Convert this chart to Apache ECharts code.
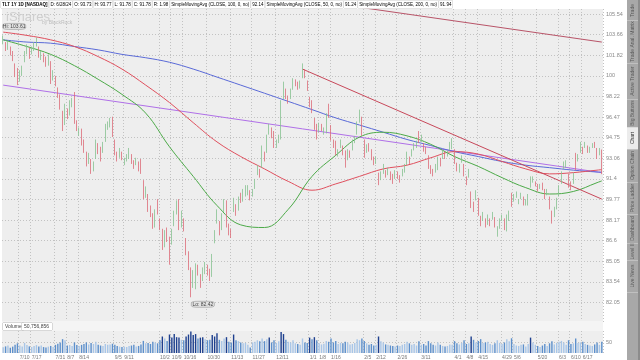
<!DOCTYPE html>
<html><head><meta charset="utf-8">
<script src="https://cdn.jsdelivr.net/npm/echarts@6/dist/echarts.min.js"></script>
<style>html,body{margin:0;padding:0;background:#fff;}#c{width:640px;height:360px;}</style>
</head><body><div id="c"></div><script>
// ---------- data ----------
const startDate = '2023-06-28', endDate = '2024-06-28';
const holidays = ['2023-07-04','2023-09-04','2023-11-23','2023-12-25','2024-01-01','2024-01-15','2024-02-19','2024-03-29','2024-05-27','2024-06-19'];

const opens = [103.0,102.9,102.6,
102.4,101.8,100.9,100.4,99.7,100.3,101.6,102.3,102.2,102.0,102.5,102.9,102.4,101.9,101.6,101.3,101.1,101.2,99.8,99.9,
98.9,97.9,96.8,95.9,96.9,96.8,97.4,98.4,96.0,95.2,95.3,94.3,93.4,92.8,92.9,92.3,93.1,94.1,93.7,93.7,94.5,95.7,95.8,
96.3,94.5,93.2,93.2,93.5,92.8,93.1,93.2,93.2,92.8,92.7,92.6,92.3,91.2,90.1,90.0,89.0,88.5,87.8,89.4,
88.2,87.3,86.2,87.1,86.6,86.9,87.9,88.8,89.7,87.7,88.2,86.6,85.5,84.5,83.6,83.3,84.6,84.0,83.8,84.3,84.6,84.3,
84.0,86.5,88.0,88.0,87.5,88.9,89.5,87.6,87.3,88.9,89.3,89.0,90.0,89.9,90.2,90.6,90.4,90.1,90.7,91.8,92.1,
92.4,93.5,93.6,95.1,95.3,95.2,94.0,94.6,94.9,98.4,98.6,98.0,98.2,98.9,99.4,99.2,99.1,99.9,100.5,99.5,
98.0,97.4,96.3,95.3,95.4,95.6,95.3,95.3,97.3,95.7,94.5,94.3,93.3,94.0,94.0,93.6,93.0,93.5,93.8,94.6,95.1,
96.2,96.4,94.5,93.6,94.0,93.7,93.0,92.8,91.8,91.6,92.1,91.9,91.9,91.9,91.4,91.5,91.9,91.5,91.7,92.2,
92.6,93.0,93.3,93.8,94.3,94.9,94.7,94.2,93.8,93.2,92.3,91.9,92.0,92.4,92.9,93.1,93.4,93.3,93.8,94.2,
93.7,92.5,92.2,92.9,92.5,91.5,91.6,90.3,89.4,89.8,89.8,88.3,88.2,88.2,88.1,88.0,88.3,88.3,87.3,87.6,88.3,88.2,
87.5,88.3,89.8,89.7,90.0,89.6,89.9,89.9,89.5,89.8,90.8,91.3,91.0,90.8,90.7,90.9,90.5,90.2,89.9,88.8,88.5,89.5,
90.1,91.1,92.3,92.5,91.6,90.9,91.1,93.0,93.0,93.6,93.9,94.0,94.0,93.8,94.0,94.2,93.8,93.4,93.73];
const highs = [103.6,103.0,103.1,
102.6,102.2,101.1,100.7,100.5,100.9,102.2,102.8,102.5,102.6,103.0,103.4,102.6,102.2,102.0,101.7,101.9,101.3,100.5,100.0,
99.0,98.4,97.0,97.6,97.2,97.9,98.1,98.6,96.2,95.6,95.5,94.6,93.6,93.5,93.0,92.8,94.6,94.3,94.0,94.4,95.9,96.1,96.4,
96.5,94.6,93.6,93.9,93.6,93.1,93.4,93.9,93.4,92.9,93.1,92.8,93.0,91.3,90.8,90.2,89.3,88.7,89.0,89.8,
88.3,87.5,87.4,87.6,86.9,87.5,88.9,89.7,89.8,88.9,88.3,86.8,85.8,84.6,84.4,84.9,84.8,84.1,84.6,85.0,84.8,84.5,
85.6,87.4,89.0,88.1,88.7,89.8,89.7,87.9,87.5,89.9,89.4,90.0,90.3,90.6,90.9,90.9,90.5,90.6,91.4,92.5,92.2,
94.1,93.6,95.0,95.9,95.6,95.3,94.6,95.0,97.9,99.5,98.9,98.3,98.9,99.8,99.7,99.5,99.6,101.1,100.6,99.6,
98.2,97.9,96.4,95.9,96.0,95.9,95.6,96.8,97.6,95.8,94.6,94.5,93.8,94.6,94.1,93.7,93.8,93.7,94.6,94.9,96.1,
97.1,96.5,94.6,94.2,94.3,93.8,93.2,93.2,91.9,92.0,92.6,92.1,92.3,92.0,91.8,92.1,92.0,91.7,92.2,92.6,
93.6,93.2,93.8,94.3,94.5,95.3,95.0,94.3,94.0,93.3,92.5,92.2,92.6,93.2,93.1,93.7,93.6,93.7,94.4,94.7,
93.8,92.7,92.6,93.3,92.6,91.6,92.2,90.4,89.6,90.5,89.9,88.5,88.8,88.3,88.6,88.3,88.8,88.4,87.7,88.3,88.6,88.3,
88.6,88.9,90.3,90.2,90.4,89.8,90.3,90.0,89.8,90.2,91.6,91.6,91.2,91.0,91.0,91.1,90.6,90.6,90.0,88.9,89.2,89.9,
90.9,92.0,92.8,92.9,91.8,91.2,91.9,93.5,93.4,94.4,94.0,94.4,94.1,94.0,94.3,94.4,93.9,93.9,93.77];
const lows = [102.8,102.2,102.3,
101.8,101.3,99.9,99.2,99.5,100.0,101.2,101.9,101.5,101.9,102.2,102.6,101.6,101.4,101.2,100.8,100.9,99.3,99.6,99.1,
98.1,97.1,95.3,95.8,96.3,96.6,97.3,95.9,95.3,94.9,94.1,93.5,92.4,92.6,91.8,92.0,93.0,93.4,92.8,93.5,94.4,95.4,95.6,
94.8,93.3,92.8,93.1,92.9,92.5,92.8,93.0,92.6,92.2,92.5,92.0,91.8,89.8,89.9,88.8,88.4,87.5,87.6,88.6,
87.4,85.9,86.1,86.5,84.8,86.3,87.7,88.6,87.4,87.6,87.3,85.5,84.4,82.42,83.1,83.0,84.0,83.1,83.6,84.1,84.0,83.6,
83.9,86.4,87.9,87.0,87.4,88.8,87.6,87.0,86.8,88.8,88.5,88.9,89.5,89.6,90.0,90.1,89.7,90.0,90.6,91.7,91.5,
92.3,92.8,93.5,95.0,94.7,93.9,93.9,94.3,94.6,98.0,98.0,97.6,98.0,98.8,99.1,98.8,98.9,99.8,99.8,98.7,
97.3,96.8,95.4,94.6,95.2,95.3,95.0,95.1,96.4,94.5,93.9,93.3,93.2,93.9,93.3,92.3,92.9,93.1,93.7,94.3,95.0,
96.0,94.9,93.1,93.5,93.6,92.9,92.5,92.6,90.9,91.3,91.8,91.5,91.7,91.3,91.0,91.4,91.4,91.1,91.6,91.9,
92.5,92.6,93.2,93.7,93.9,94.3,94.4,93.6,93.4,92.2,91.8,91.6,91.9,92.1,92.4,93.0,93.0,93.2,93.7,93.8,
92.6,92.0,91.9,92.7,91.6,90.9,91.5,89.1,88.8,89.7,88.5,87.7,88.1,87.6,87.8,87.7,88.2,87.6,86.9,87.5,88.1,87.4,
87.3,88.1,89.2,89.6,89.9,89.4,89.8,89.3,89.3,89.3,90.7,91.1,90.8,90.4,90.6,90.5,89.8,90.1,89.0,87.9,88.4,89.0,
90.0,91.0,92.2,92.3,90.7,90.5,91.0,92.1,92.8,93.5,93.4,93.9,93.5,93.5,93.9,93.9,93.0,93.3,91.78];
const closes = [103.4,102.4,102.9,
102.0,101.6,100.2,99.6,100.3,100.6,101.8,102.5,101.8,102.4,102.7,103.2,101.8,101.9,101.5,101.0,101.6,99.5,100.1,99.3,
98.3,97.3,95.7,97.2,96.6,97.6,97.9,96.2,95.4,95.3,94.3,93.6,92.6,93.3,92.0,92.5,94.4,93.6,93.5,94.3,95.7,95.9,96.0,
94.9,93.4,93.0,93.7,93.0,92.9,93.2,93.7,92.8,92.6,92.9,92.2,92.0,89.9,90.6,89.0,88.8,87.8,88.8,88.7,
87.7,86.0,87.2,86.6,85.8,87.2,88.8,89.6,87.5,88.8,87.5,85.7,84.6,83.3,84.2,84.6,84.3,83.3,84.4,84.8,84.3,83.9,
85.5,87.3,88.6,87.3,88.6,89.6,87.8,87.3,87.0,89.6,88.6,89.9,89.9,90.4,90.8,90.7,89.8,90.5,91.3,92.4,91.9,
94.0,93.0,94.9,95.7,95.0,94.1,94.4,94.8,97.8,98.6,98.3,98.0,98.7,99.6,99.4,99.0,99.4,101.0,100.0,98.9,
97.5,97.0,95.5,95.1,95.9,95.6,95.4,96.6,96.5,94.7,94.2,93.5,93.6,94.5,93.4,92.4,93.7,93.5,94.5,94.8,95.9,
96.9,95.0,93.2,94.1,93.8,93.0,92.8,92.9,91.2,91.9,92.4,91.7,92.1,91.6,91.3,92.0,91.6,91.5,92.1,92.4,
93.4,92.8,93.7,94.2,94.4,94.7,94.9,93.9,93.6,92.3,92.0,91.8,92.5,93.0,92.6,93.6,93.1,93.5,94.3,94.6,
92.8,92.2,92.4,93.1,91.8,91.1,92.0,89.3,89.0,90.3,88.6,87.9,88.6,87.8,88.2,88.0,88.6,87.7,87.5,88.1,88.4,87.5,
88.2,88.8,89.6,90.0,90.2,89.7,90.2,89.5,89.7,90.1,91.5,91.4,91.0,90.5,90.9,90.6,90.0,90.5,89.1,88.2,89.1,89.7,
90.8,91.9,92.6,92.7,91.0,90.8,91.8,92.8,93.3,94.3,93.6,94.3,93.6,93.9,94.2,94.1,93.2,93.6,91.78];
// volume in millions of shares
const volumes = [26,30,34,24,29,38,44,34,30,46,36,30,27,32,36,29,34,27,25,29,32,27,37,
42,48,63,58,34,36,32,48,36,32,37,41,48,39,46,41,51,37,34,32,41,37,39,
42,37,32,29,27,29,27,32,34,37,29,32,39,55,44,46,41,51,48,44,
58,75,66,54,84,70,86,72,70,60,58,75,84,98,82,86,66,70,72,63,58,60,
82,75,90,60,54,66,72,51,48,84,58,54,48,44,46,37,25,48,51,58,53,
66,54,63,70,48,58,46,53,95,86,60,51,48,58,44,41,37,66,48,46,
70,63,72,58,44,39,42,54,51,66,48,54,41,46,44,51,48,39,41,46,63,
58,66,54,44,37,41,34,37,75,53,48,39,37,34,32,29,34,32,37,41,
51,44,37,41,34,53,37,41,34,54,44,37,34,48,37,32,29,32,39,37,
54,44,39,46,58,41,44,75,60,48,55,63,46,48,51,41,37,44,58,46,41,48,
63,53,67,41,34,32,37,39,29,41,70,48,37,32,27,34,41,32,44,53,39,46,
51,55,48,37,58,41,44,66,46,48,51,41,37,34,32,39,48,37,50.756856];

// moving averages read at sample bars (index into trading days)
const maIdx  = [0,10,20,30,40,50,60,70,80,90,100,110,120,130,140,150,160,170,180,190,200,210,220,230,240,250,252];
const sma100 = [103.9,103.6,103.2,102.6,101.7,100.6,99.2,97.7,96.0,94.4,93.2,92.2,91.2,90.5,91.0,91.6,92.2,92.5,93.1,93.6,93.4,92.8,92.2,91.8,91.9,92.1,92.14];
const sma50  = [103.2,102.6,101.9,100.9,99.7,98.4,96.8,94.0,91.6,89.3,87.8,87.6,89.0,91.6,93.3,94.8,95.2,94.9,94.2,93.2,92.4,91.5,90.7,90.2,90.4,91.1,91.24];
const sma200 = [103.2,103.0,102.9,102.6,102.3,101.9,101.6,101.2,100.6,99.9,99.2,98.5,97.8,97.1,96.4,95.8,95.2,94.6,94.1,93.6,93.2,92.8,92.5,92.3,92.1,91.95,91.94];

// drawn trend lines: [bar index, price]
const trendTop    = [[140,106.5],[252,103.0]];
const trendDecHi  = [[126,100.6],[252,89.8]];
const trendPurple = [[0,99.2],[252,91.9]];

// axis tick labels
const yTickLabels = ['82.05','83.54','85.05','86.6','88.17','89.77','91.4','93.06','94.75','96.47','98.22','100','101.82','103.66','105.54'];
const xTickDates = ['7/10/23','7/17/23','7/31/23','8/7/23','8/14/23','9/5/23','9/11/23','10/2/23','10/9/23','10/16/23','10/30/23','11/13/23','11/27/23','12/11/23','1/2/24','1/8/24','1/16/24','2/5/24','2/12/24','2/26/24','3/11/24','4/1/24','4/8/24','4/15/24','4/29/24','5/6/24','5/20/24','6/3/24','6/10/24','6/17/24'];
const xTickTexts = ['7/10','7/17','7/31','8/7','8/14','9/5','9/11','10/2','10/9','10/16','10/30','11/13','11/27','12/11','1/1','1/8','1/16','2/5','2/12','2/26','3/11','4/1','4/8','4/15','4/29','5/6','5/20','6/3','6/10','6/17'];

const lastClose = 91.78, lastSma50 = 91.24;
const hiLabel = 'Hi: 103.61', loLabel = 'Lo: 82.42';
const volumeLast = '50,756,856';
const headerTexts = ['TLT 1Y 1D [NASDAQ]','D: 6/28/24','O: 93.73','H: 93.77','L: 91.78','C: 91.78','R: 1.98',
  'SimpleMovingAvg (CLOSE, 100, 0, no)','92.14','SimpleMovingAvg (CLOSE, 50, 0, no)','91.24','SimpleMovingAvg (CLOSE, 200, 0, no)','91.94'];
const headerColors = ['#222','#555','#555','#555','#555','#555','#555','#d0505a','#d0505a','#3f9f3f','#3f9f3f','#4a5ed0','#4a5ed0'];

// ---------- build ----------
const dates = [];
(function(){
  const hs = new Set(holidays);
  let d = new Date(startDate + 'T00:00:00Z'); const e = new Date(endDate + 'T00:00:00Z');
  while (d <= e) {
    const wd = d.getUTCDay(); const iso = d.toISOString().slice(0,10);
    if (wd !== 0 && wd !== 6 && !hs.has(iso)) dates.push((d.getUTCMonth()+1) + '/' + d.getUTCDate() + '/' + String(d.getUTCFullYear()).slice(2));
    d = new Date(d.getTime() + 86400000);
  }
})();
const LNB = 0.017983;                     // log price scale step
const S = p => Math.log(p / 100) / LNB;   // price -> log-scale units
const tickSet = new Set(xTickDates);
const tickText = {}; xTickDates.forEach((d,i)=>tickText[d]=xTickTexts[i]);
const tickFn = (i, v) => tickSet.has(v);

const candles = opens.map((o,i)=>[S(o), S(closes[i]), S(lows[i]), S(highs[i])]);
function maSeries(vals){ const a = new Array(dates.length).fill('-'); maIdx.forEach((ix,k)=>a[ix]=S(vals[k])); return a; }
const tl = arr => arr.map(p=>[p[0], S(p[1])]);
let hiIdx = 0; highs.forEach((h,i)=>{ if (h > highs[hiIdx]) hiIdx = i; });
let loIdx = 0; lows.forEach((l,i)=>{ if (l < lows[loIdx]) loIdx = i; });

const FONT = 'Liberation Sans, Arial, sans-serif';
const grid0 = {left:2, right:37, top:9, height:314, show:true, backgroundColor:'#eeeeee', borderWidth:0};
const grid1 = {left:2, right:37, top:331, height:22, show:true, backgroundColor:'#eeeeee', borderWidth:0};
const dotted = {color:'#c2c2c2', type:[1,2], width:1};

const chart = echarts.init(document.getElementById('c'), null, {renderer:'canvas'});
const rich = {sp:{width:1}};
let headerStr = '';
headerTexts.forEach((t,i)=>{
  rich['h'+i] = {fontSize:4.5, fontFamily:FONT, fontWeight:i===0?'bold':'normal', color:headerColors[i], backgroundColor:'#ffffff', borderColor:'#cccccc', borderWidth:0.5, padding:[1.5,1,1,1]};
  headerStr += '{h'+i+'|'+t+'}{sp|}';
});
const tabs = [
  {t:'Trade', a:1, b:20},{t:'Trade Anal. Matrix', a:20, b:63},{t:'Active Trader', a:63, b:99},
  {t:'Big Buttons', a:99, b:127},{t:'Chart', a:127, b:149, sel:true},{t:'Option Chain', a:149, b:182},
  {t:'Price Ladder', a:182, b:214},{t:'Dashboard', a:214, b:243},{t:'Level II', a:243, b:260},{t:'Live News', a:260, b:292}
];
const graphics = [
  {type:'rect', shape:{x:0,y:0,width:604,height:8.5}, style:{fill:'#ffffff'}, z:50},
  {type:'text', x:1, y:0.5, z:52, style:{text:headerStr, rich:rich, fontSize:4.5, fontFamily:FONT}},
  {type:'rect', shape:{x:2,y:321,width:601,height:10}, style:{fill:'#f4f4f4'}, z:50},
  {type:'text', x:3, y:323, z:51, style:{text:'Volume', fontSize:5, fontFamily:FONT, fill:'#444', backgroundColor:'#ffffff', borderColor:'#bbb', borderWidth:0.5, padding:[1,2]}},
  {type:'text', x:22, y:323, z:51, style:{text:volumeLast, fontSize:5, fontFamily:FONT, fill:'#444', backgroundColor:'#ffffff', borderColor:'#bbb', borderWidth:0.5, padding:[1,3,1,2]}},
  {type:'text', x:6, y:11, z:3, style:{text:'iShares', fontSize:13, fontFamily:FONT, fill:'#cfcfcf'}},
  {type:'text', x:42, y:20, z:3, style:{text:'by BlackRock', fontSize:5, fontFamily:FONT, fill:'#bdbdbd'}},
  {type:'rect', shape:{x:627,y:0,width:11,height:360}, style:{fill:'#a8a8a8'}, z:50},
  {type:'rect', shape:{x:638,y:0,width:2,height:360}, style:{fill:'#8c8c8c'}, z:50}
];
tabs.forEach(tb=>{
  if (tb.sel) graphics.push({type:'rect', shape:{x:627,y:tb.a,width:11,height:tb.b-tb.a}, style:{fill:'#ececec'}, z:51});
  graphics.push({type:'rect', shape:{x:627,y:tb.b,width:11,height:0.6}, style:{fill:'#d0d0d0'}, z:52});
  graphics.push({type:'text', x:632.5, y:(tb.a+tb.b)/2, rotation:Math.PI/2, z:53, style:{text:tb.t, fontSize:5, fontFamily:FONT, fill:tb.sel?'#333':'#5a5a5a', align:'center', verticalAlign:'middle'}});
});

chart.setOption({
  animation:false,
  backgroundColor:'#ffffff',
  textStyle:{fontFamily:FONT},
  grid:[grid0, grid1],
  xAxis:[
    {type:'category', gridIndex:0, data:dates, boundaryGap:true, axisLine:{show:false}, axisTick:{show:false}, axisLabel:{show:false}, splitLine:{show:true, interval:tickFn, lineStyle:dotted}},
    {type:'category', gridIndex:1, data:dates, boundaryGap:true, axisLine:{show:false}, axisTick:{show:false},
     axisLabel:{show:true, interval:tickFn, formatter:v=>tickText[v]||'', fontSize:5, color:'#7a7a7a', margin:2, align:'left'}, splitLine:{show:true, interval:tickFn, lineStyle:dotted}}
  ],
  yAxis:[
    {type:'value', gridIndex:0, position:'right', min:-12, max:3.25, interval:1, scale:true,
     axisLine:{show:false}, axisTick:{show:false},
     axisLabel:{fontSize:5.5, color:'#8a8a8a', margin:3, formatter:v=>{const r=Math.round(v); return Math.abs(v-r)<1e-6 ? (yTickLabels[r+11]||'') : '';}},
     splitLine:{show:true, showMinLine:false, showMaxLine:false, lineStyle:dotted}},
    {type:'value', gridIndex:1, position:'right', min:0, max:100, interval:50,
     axisLine:{show:false}, axisTick:{show:false},
     axisLabel:{fontSize:5.5, color:'#8a8a8a', margin:3, formatter:v=>v===50?'50':''},
     splitLine:{show:true, showMinLine:false, showMaxLine:false, lineStyle:dotted}}
  ],
  series:[
    {type:'line', xAxisIndex:0, yAxisIndex:0, data:tl(trendPurple), symbol:'none', lineStyle:{color:'#b070e8', width:1}, z:3},
    {type:'line', xAxisIndex:0, yAxisIndex:0, data:maSeries(sma200), connectNulls:true, smooth:0.4, symbol:'none', lineStyle:{color:'#5a6ad8', width:1}, z:3},
    {type:'line', xAxisIndex:0, yAxisIndex:0, data:maSeries(sma100), connectNulls:true, smooth:0.4, symbol:'none', lineStyle:{color:'#e0505e', width:1}, z:3},
    {type:'line', xAxisIndex:0, yAxisIndex:0, data:maSeries(sma50), connectNulls:true, smooth:0.4, symbol:'none', lineStyle:{color:'#4caa48', width:1}, z:3},
    {type:'line', xAxisIndex:0, yAxisIndex:0, data:tl(trendTop), symbol:'none', lineStyle:{color:'#b85468', width:1}, z:3},
    {type:'line', xAxisIndex:0, yAxisIndex:0, data:tl(trendDecHi), symbol:'none', lineStyle:{color:'#c8485a', width:1}, z:3},
    {type:'candlestick', xAxisIndex:0, yAxisIndex:0, data:candles, barWidth:1.2, z:4,
     itemStyle:{color:'#86c290', color0:'#dc6c78', borderColor:'#86c290', borderColor0:'#dc6c78', borderWidth:0.8},
     markPoint:{symbol:'roundRect', silent:true, animation:false,
       data:[
         {coord:[hiIdx, S(highs[hiIdx])], symbolSize:[23,6], symbolOffset:[11,-9], value:hiLabel},
         {coord:[loIdx, S(lows[loIdx])], symbolSize:[23,6], symbolOffset:[12,7], value:loLabel}
       ],
       itemStyle:{color:'#e2e2e2', borderColor:'#9a9a9a', borderWidth:0.5},
       label:{show:true, position:'inside', fontSize:5, color:'#444', formatter:p=>p.value}},
     markLine:{symbol:'none', silent:true, animation:false, lineStyle:{opacity:0},
       data:[
         {yAxis:S(lastClose), label:{formatter:lastClose.toFixed(2), backgroundColor:'#c0303a'}},
         {yAxis:S(lastSma50), label:{formatter:lastSma50.toFixed(2), backgroundColor:'#2e9a3a'}}
       ],
       label:{show:true, position:'end', distance:2, fontSize:5, color:'#fff', padding:[1,1.5], borderColor:'#555', borderWidth:0.3}}},
    {type:'bar', xAxisIndex:1, yAxisIndex:1, data:volumes, barWidth:1.4,
     itemStyle:{color:p=>{const i=p.dataIndex; if (volumes[i]>=70) return '#1d3f8e'; return closes[i]>=opens[i] ? '#a8c6e8' : '#5d90cc';}}}
  ],
  graphic:{elements:graphics}
});
</script></body></html>
